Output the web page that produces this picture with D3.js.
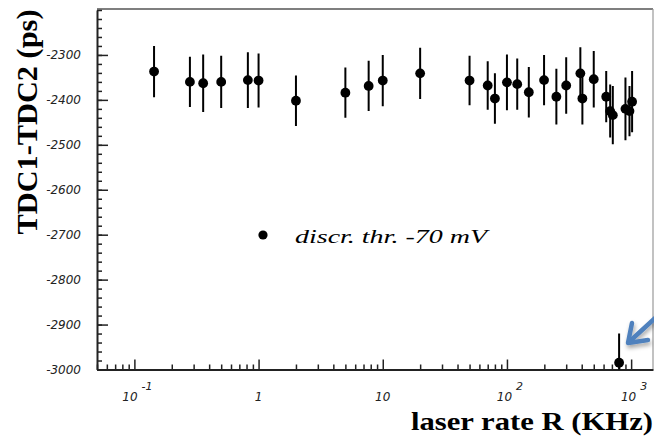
<!DOCTYPE html>
<html>
<head>
<meta charset="utf-8">
<script src="https://cdn.jsdelivr.net/npm/d3@7"></script>
<style>
  body { margin: 0; background: #fff; }
  svg { display: block; }
  .tick text { font-family: "DejaVu Sans", sans-serif; font-style: italic; font-size: 12px; fill: #222; }
  .axis path, .axis line { stroke: #222; }
</style>
</head>
<body>
<div id="chart"></div>
<script>
// laser rate (KHz) and TDC1-TDC2 (ps) with errors
var rate = [0.144, 0.28, 0.358, 0.50, 0.82, 1.0, 2.0, 5.0, 7.7, 10, 20,
            50, 70, 80, 100, 121, 150, 199, 250, 300, 390, 405, 500,
            630, 678, 712, 900, 970, 1018, 800];
var tdc  = [-2337, -2360, -2363, -2360, -2356, -2357, -2402, -2384, -2369, -2357, -2341,
            -2357, -2368, -2397, -2361, -2365, -2383, -2356, -2393, -2368, -2341, -2397, -2354,
            -2393, -2425, -2434, -2420, -2425, -2404, -2985];
var err  = [57, 56, 64, 58, 62, 60, 56, 56, 56, 57, 57,
            55, 54, 56, 62, 57, 56, 56, 62, 63, 58, 58, 63,
            57, 59, 65, 70, 56, 68, 65];

var yMajor = [-3000, -2900, -2800, -2700, -2600, -2500, -2400, -2300];
var yMinor = d3.range(-3000, -2199, 20);
var xMajor = [0.1, 1, 10, 100, 1000];
var xMinor = [0.05, 0.06, 0.07, 0.08, 0.09, 0.2, 0.3, 0.4, 0.5, 0.6, 0.7, 0.8, 0.9,
              2, 3, 4, 5, 6, 7, 8, 9, 20, 30, 40, 50, 60, 70, 80, 90,
              200, 300, 400, 500, 600, 700, 800, 900];
var xLabels = [{v: 0.1, base: '10', exp: '-1'}, {v: 1, base: '1', exp: ''},
               {v: 10, base: '10', exp: ''}, {v: 100, base: '10', exp: '2'},
               {v: 1000, base: '10', exp: '3'}];

var width = 654, height = 441;
var frame = {left: 97, right: 653, top: 10, bottom: 369.5};

var x = d3.scaleLog().domain([0.05, 1500]).range([frame.left, frame.right]);
var y = d3.scaleLinear().domain([-3000, -2200]).range([frame.bottom, frame.top]);

var data = rate.map((r, i) => ({ rate: r, value: tdc[i], err: err[i] }));

var svg = d3.select('#chart').append('svg')
    .attr('width', width)
    .attr('height', height);

// frame: top and right
svg.append('line')
    .attr('x1', frame.left).attr('x2', frame.right).attr('y1', frame.top - 1).attr('y2', frame.top - 1)
    .attr('stroke', '#555').attr('stroke-width', 1.5);
svg.append('line')
    .attr('x1', frame.right).attr('x2', frame.right).attr('y1', frame.top - 1).attr('y2', frame.bottom)
    .attr('stroke', '#999').attr('stroke-width', 1.2);

// y axis
svg.append('g')
    .attr('class', 'axis')
    .attr('transform', 'translate(' + frame.left + ',0)')
    .call(d3.axisLeft(y).tickValues(yMinor).tickSize(-5).tickFormat(''))
    .call(g => g.select('.domain').remove())
    .selectAll('line').attr('stroke-width', 1.5);

var yAxis = svg.append('g')
    .attr('class', 'axis')
    .attr('transform', 'translate(' + frame.left + ',0)')
    .call(d3.axisLeft(y).tickValues(yMajor).tickSize(-11).tickPadding(16).tickSizeOuter(0)
          .tickFormat(d => String(d)));
yAxis.select('.domain').attr('stroke-width', 2);
yAxis.selectAll('line').attr('stroke-width', 1.5);
yAxis.selectAll('text').attr('font-size', 12.5).attr('font-family', '"DejaVu Sans", sans-serif');

// x axis
svg.append('g')
    .attr('class', 'axis')
    .attr('transform', 'translate(0,' + frame.bottom + ')')
    .call(d3.axisBottom(x).tickValues(xMinor).tickSize(-5).tickFormat(''))
    .call(g => g.select('.domain').remove())
    .selectAll('line').attr('stroke-width', 1.5);

var xAxis = svg.append('g')
    .attr('class', 'axis')
    .attr('transform', 'translate(0,' + frame.bottom + ')')
    .call(d3.axisBottom(x).tickValues(xMajor).tickSize(-10).tickSizeOuter(0).tickFormat(''));
xAxis.select('.domain').attr('stroke-width', 2);
xAxis.selectAll('line').attr('stroke-width', 1.5);

var xl = svg.append('g').attr('class', 'tick');
xLabels.forEach(function(d) {
    var t = xl.append('text')
        .attr('x', x(d.v) + (d.exp ? 3 : 0))
        .attr('y', 401)
        .attr('font-size', 14)
        .attr('text-anchor', 'middle');
    t.append('tspan').text(d.base);
    if (d.exp) {
        t.append('tspan').attr('dx', 4).attr('dy', -11)
            .attr('font-size', 11).text(d.exp);
    }
});

// data, clipped to frame
svg.append('clipPath').attr('id', 'clip')
    .append('rect').attr('x', frame.left).attr('y', frame.top)
    .attr('width', frame.right - frame.left).attr('height', frame.bottom - frame.top);

var plot = svg.append('g').attr('clip-path', 'url(#clip)');

plot.selectAll('line.err')
    .data(data)
    .join('line')
    .attr('class', 'err')
    .attr('x1', d => x(d.rate)).attr('x2', d => x(d.rate))
    .attr('y1', d => y(d.value - d.err)).attr('y2', d => y(d.value + d.err))
    .attr('stroke', '#000').attr('stroke-width', 2);

plot.selectAll('circle')
    .data(data)
    .join('circle')
    .attr('cx', d => x(d.rate))
    .attr('cy', d => y(d.value))
    .attr('r', 4.9)
    .attr('fill', '#000');

// legend
svg.append('circle').attr('cx', 263).attr('cy', 235).attr('r', 4.6).attr('fill', '#000');
svg.append('text')
    .attr('x', 295).attr('y', 243)
    .attr('font-family', '"Liberation Serif", serif')
    .attr('font-style', 'italic')
    .attr('font-size', 19)
    .attr('textLength', 192).attr('lengthAdjust', 'spacingAndGlyphs')
    .text('discr. thr. -70 mV');

// axis titles
svg.append('text')
    .attr('transform', 'translate(37,122) rotate(-90)')
    .attr('text-anchor', 'middle')
    .attr('font-family', '"Liberation Serif", serif')
    .attr('font-weight', 'bold')
    .attr('font-size', 29)
    .attr('textLength', 225).attr('lengthAdjust', 'spacingAndGlyphs')
    .text('TDC1-TDC2 (ps)');

svg.append('text')
    .attr('x', 653).attr('y', 430)
    .attr('text-anchor', 'end')
    .attr('font-family', '"Liberation Serif", serif')
    .attr('font-weight', 'bold')
    .attr('font-size', 26)
    .attr('textLength', 242).attr('lengthAdjust', 'spacingAndGlyphs')
    .text('laser rate R (KHz)');

// blue arrow pointing at the low point
var defs = svg.append('defs');
var f = defs.append('filter').attr('id', 'shadow').attr('x', '-50%').attr('y', '-50%')
    .attr('width', '200%').attr('height', '200%');
f.append('feDropShadow').attr('dx', 1).attr('dy', 3).attr('stdDeviation', 2)
    .attr('flood-color', '#000').attr('flood-opacity', 0.35);

var arrow = svg.append('g').attr('filter', 'url(#shadow)')
    .attr('stroke', '#4f81bd').attr('stroke-width', 4.5).attr('fill', 'none')
    .attr('stroke-linecap', 'round').attr('stroke-linejoin', 'round');
arrow.append('line').attr('x1', 664).attr('y1', 310).attr('x2', 629).attr('y2', 342);
arrow.append('polyline').attr('points', '632,323 628,343 648,340');
</script>
</body>
</html>
